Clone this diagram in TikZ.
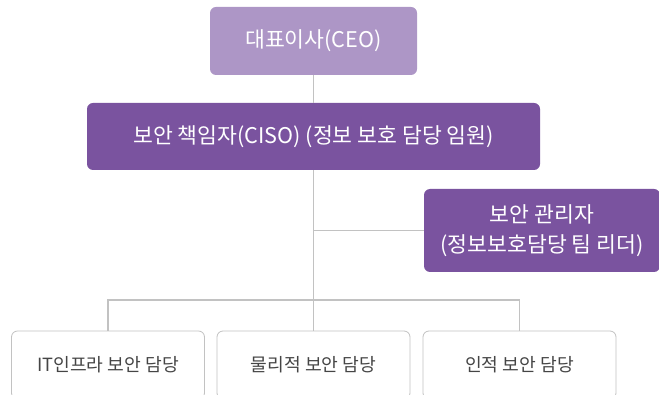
\documentclass[tikz,border=0pt]{standalone}
\usepackage{fontspec}
\setmainfont{Noto Sans CJK KR}
\usepackage{tikz}
\definecolor{ceofill}{HTML}{AD96C6}
\definecolor{cisofill}{HTML}{7A539F}
\definecolor{linkgray}{HTML}{C2C2C2}
\definecolor{textgray}{HTML}{454545}

\begin{document}
\begin{tikzpicture}[
  x=1pt, y=-1pt,
  head/.style={rectangle, rounded corners=6pt, inner sep=0pt, text=white,
    align=center, font=\fontsize{21.6}{30}\selectfont},
  unit/.style={rectangle, rounded corners=6pt, draw=linkgray, line width=0.8pt,
    fill=white, inner sep=0pt, minimum width=193pt, minimum height=68pt,
    text=textgray, font=\fontsize{18.2}{22}\selectfont},
  link/.style={draw=linkgray, line width=1.3pt}
]
  \useasboundingbox (0,0) rectangle (659,395);

  \node[head, fill=ceofill, minimum width=207pt, minimum height=68pt] (ceo) at (313.5,41) {대표이사(CEO)};
  \node[head, fill=cisofill, minimum width=453pt, minimum height=67pt] (ciso) at (313.5,136.5) {보안 책임자(CISO) (정보 보호 담당 임원)};
  \node[head, fill=cisofill, minimum width=236pt, minimum height=83pt] (mgr) at (542,230.5) {보안 관리자\\(정보보호담당 팀 리더)};

  \node[unit] (it) at (108,365) {IT인프라 보안 담당};
  \node[unit] (mid) at (313.5,365) {물리적 보안 담당};
  \node[unit] (hr) at (519.5,365) {인적 보안 담당};

  \coordinate (bus) at (313.5,300);

  \draw[link] (ceo) -- (ciso);
  \draw[link] (ciso) -- (mid);
  \draw[link] (ciso.south |- mgr.west) -- (mgr.west);
  \draw[link] (it.north) |- (bus) -| (hr.north);
\end{tikzpicture}
\end{document}
